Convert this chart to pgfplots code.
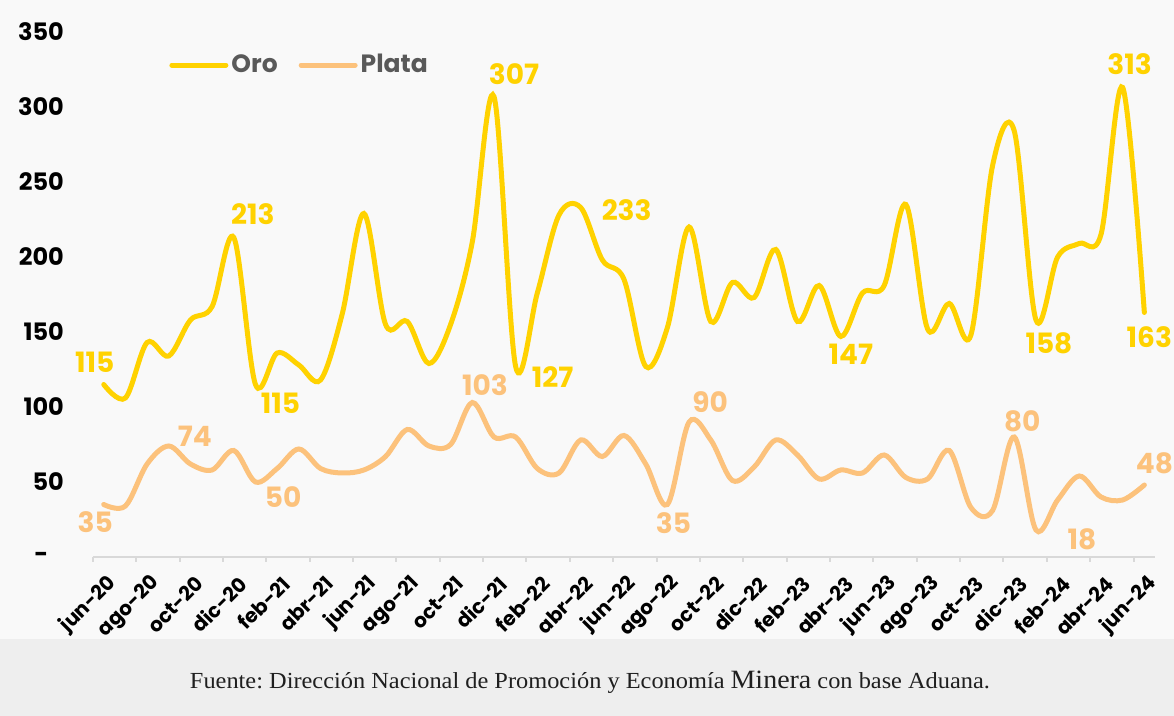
\documentclass[border=0pt]{standalone}
\usepackage{pgfplots}
\pgfplotsset{compat=1.18}
\usepackage{pgfplotstable}
\usepackage{graphicx}
\usepackage{fontspec}
\setmainfont{Poppins}
\newfontfamily\seriffont{Liberation Serif}
\definecolor{oro}{RGB}{255,210,0}
\definecolor{plata}{RGB}{252,194,124}
\definecolor{bgchart}{RGB}{249,249,249}
\definecolor{bgfoot}{RGB}{238,238,238}
\definecolor{legtxt}{RGB}{89,89,89}
\definecolor{axgray}{RGB}{217,217,217}

\pgfplotstableread{
i oro plata
0 115 35
1 106 34
2 143 62
3 134 74
4 158 62
5 167 58
6 213 71
7 115 50
8 136 59
9 128 72
10 118 59
11 162 56
12 229 58
13 155 67
14 157 85
15 129 74
16 155 75
17 210 103
18 307 80
19 127 80
20 176 59
21 228 56
22 233 78
23 198 67
24 185 81
25 127 62
26 153 35
27 220 90
28 157 78
29 183 51
30 173 60
31 205 78
32 157 68
33 181 52
34 147 58
35 176 56
36 181 68
37 235 53
38 152 52
39 169 71
40 148 33
41 261 31
42 284 80
43 158 18
44 200 38
45 209 54
46 215 40
47 313 38
48 163 48
}\datatable

\begin{document}
\frenchspacing
\begin{tikzpicture}
\useasboundingbox (0pt,0pt) rectangle (587pt,358pt);
\fill[bgchart] (0pt,38.5pt) rectangle (587pt,358pt);
\fill[bgfoot] (0pt,0pt) rectangle (587pt,38.5pt);
\begin{axis}[
  at={(46.45pt,79.5pt)}, anchor=south west,
  scale only axis, width=531.15pt, height=262.5pt,
  xmin=-0.5, xmax=48.5, ymin=0, ymax=350,
  axis x line*=bottom, axis y line*=left,
  x axis line style={draw=axgray, line width=1pt, -},
  y axis line style={draw=none},
  tick align=outside,
  xtick={-0.5,1.5,...,47.5}, xticklabels={},
  major tick length=2.5pt,
  x tick style={draw=axgray, line width=1pt},
  extra x ticks={0,2,...,48},
  extra x tick labels={jun-20,ago-20,oct-20,dic-20,feb-21,abr-21,jun-21,ago-21,oct-21,dic-21,feb-22,abr-22,jun-22,ago-22,oct-22,dic-22,feb-23,abr-23,jun-23,ago-23,oct-23,dic-23,feb-24,abr-24,jun-24},
  extra x tick style={major tick length=0pt},
  xticklabel style={font=\bfseries\fontsize{10}{10}\selectfont, rotate=45, anchor=east, yshift=-11.5pt, xshift=-1.5pt},
  ytick={0,50,...,350},
  yticklabels={-\hphantom{0},50,100,150,200,250,300,350},
  ytick style={draw=none},
  yticklabel style={font=\bfseries\fontsize{12}{12}\selectfont, xshift=-8.5pt},
  legend style={at={(0.066,0.937)}, anchor=west, draw=none, fill=none,
    legend columns=2, font=\bfseries\fontsize{12.5}{12.5}\selectfont, text=legtxt,
    nodes={inner xsep=1.5pt},
    /tikz/every even column/.append style={column sep=9pt}},
  legend image code/.code={\draw[#1, line width=2.5pt, line cap=round] (0pt,0pt) -- (27pt,0pt);},
  clip=false,
]
\addplot[oro, line width=2.5pt, smooth, tension=0.55, line cap=round] table[x=i,y=oro]{\datatable};
\addplot[plata, line width=2.5pt, smooth, tension=0.55, line cap=round] table[x=i,y=plata]{\datatable};
\legend{Oro,Plata}
\tikzset{lbl/.style={font=\bfseries\fontsize{14}{14}\selectfont, inner sep=0pt}}
\node[lbl, text=oro, xshift=-4.5pt, yshift=11pt] at (axis cs:0,115) {115};
\node[lbl, text=oro, xshift=9.5pt, yshift=11.5pt] at (axis cs:6,213) {213};
\node[lbl, text=oro, xshift=12.5pt, yshift=-9.25pt] at (axis cs:7,115) {115};
\node[lbl, text=oro, xshift=10pt, yshift=11pt] at (axis cs:18,307) {307};
\node[lbl, text=oro, xshift=18.5pt, yshift=-5.25pt] at (axis cs:19,127) {127};
\node[lbl, text=oro, xshift=23pt, yshift=-1.25pt] at (axis cs:22,233) {233};
\node[lbl, text=oro, xshift=5pt, yshift=-9pt] at (axis cs:34,147) {147};
\node[lbl, text=oro, xshift=6.5pt, yshift=-11.5pt] at (axis cs:43,158) {158};
\node[lbl, text=oro, xshift=3.5pt, yshift=11.75pt] at (axis cs:47,313) {313};
\node[lbl, text=oro, xshift=2.5pt, yshift=-12.25pt] at (axis cs:48,163) {163};
\node[lbl, text=plata, xshift=-4.25pt, yshift=-8.75pt] at (axis cs:0,35) {35};
\node[lbl, text=plata, xshift=13pt, yshift=5pt] at (axis cs:3,74) {74};
\node[lbl, text=plata, xshift=13.8pt, yshift=-7.5pt] at (axis cs:7,50) {50};
\node[lbl, text=plata, xshift=6.3pt, yshift=8.75pt] at (axis cs:17,103) {103};
\node[lbl, text=plata, xshift=3pt, yshift=-9.5pt] at (axis cs:26,35) {35};
\node[lbl, text=plata, xshift=10.5pt, yshift=10pt] at (axis cs:27,90) {90};
\node[lbl, text=plata, xshift=4pt, yshift=8pt] at (axis cs:42,80) {80};
\node[lbl, text=plata, xshift=23pt, yshift=-4.5pt] at (axis cs:43,18) {18};
\node[lbl, text=plata, xshift=5pt, yshift=11pt] at (axis cs:48,48) {48};
\end{axis}
\node[text=black!88] at (295pt,17pt) {\seriffont\fontsize{11.5}{13}\selectfont\resizebox{400pt}{\height}{Fuente: Dirección Nacional de Promoción y Economía {\fontsize{13.2}{13}\selectfont Minera} con base Aduana.}};
\end{tikzpicture}
\end{document}
